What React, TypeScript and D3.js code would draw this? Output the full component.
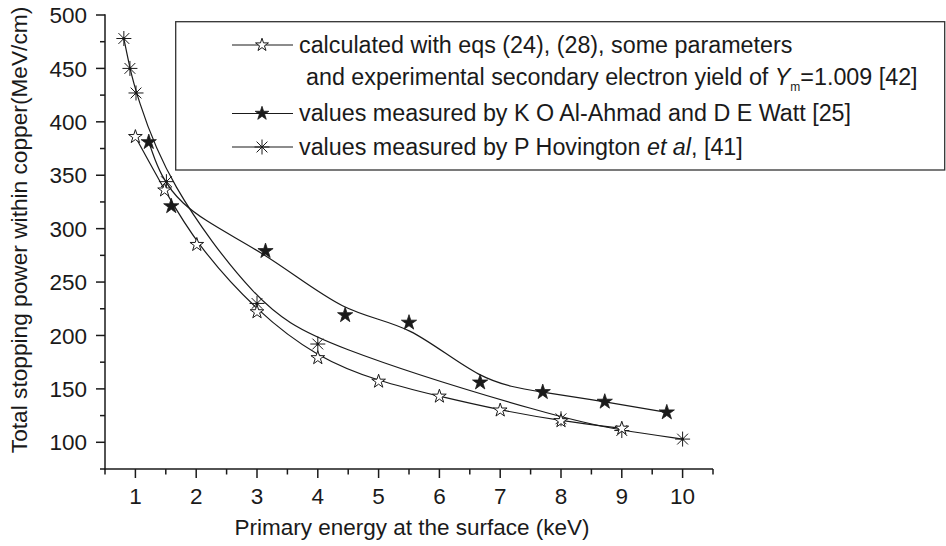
import React from "react";
import * as d3 from "d3";

// ---- data ----
const calcE = [1.0, 1.48, 2.01, 3.0, 4.0, 5.0, 6.0, 7.0, 8.0, 9.0];
const calcS = [386, 336, 285, 222, 179, 157, 143, 130, 120, 113];

const ahmadE = [1.22, 1.59, 3.14, 4.45, 5.5, 6.67, 7.7, 8.72, 9.74];
const ahmadS = [381, 321, 279, 219, 212, 156, 147, 138, 128];

const hovE = [0.81, 0.91, 1.01, 1.51, 3.0, 4.0, 8.0, 9.0, 10.0];
const hovS = [478, 450, 427, 344, 230, 192, 122, 111, 103];

const xTicks = [1, 2, 3, 4, 5, 6, 7, 8, 9, 10];
const xMinor = [0.5, 1.5, 2.5, 3.5, 4.5, 5.5, 6.5, 7.5, 8.5, 9.5, 10.5];
const yTicks = [100, 150, 200, 250, 300, 350, 400, 450, 500];
const yMinor = [75, 125, 175, 225, 275, 325, 375, 425, 475];

const xTitle = "Primary energy at the surface (keV)";
const yTitle = "Total stopping power within copper(MeV/cm)";
const legendCalc1 = "calculated with eqs (24), (28), some parameters";
const legendCalc2a = "and experimental secondary electron yield of ";
const legendCalc2b = "=1.009 [42]";
const legendAhmad = "values measured by K O Al-Ahmad and D E Watt [25]";
const legendHov1 = "values measured by P Hovington ";
const legendHov2 = "et al";
const legendHov3 = ", [41]";

const W = 946;
const H = 546;
const FONT = "'Liberation Sans', Arial, Helvetica, sans-serif";
const INK = "#1a1a1a";

const x = d3.scaleLinear().domain([0.5, 10.5]).range([105, 713]);
const y = d3.scaleLinear().domain([75, 500]).range([469, 15]);

const starPath = (R: number) =>
  d3.symbol().type(d3.symbolStar).size((R * R) / 0.8908130915292852)() as string;

const asteriskPath = (r: number) => {
  const d = r * 0.72;
  return `M${-r},0L${r},0M0,${-r}L0,${r}M${-d},${-d}L${d},${d}M${-d},${d}L${d},${-d}`;
};

const line = d3
  .line<[number, number]>()
  .x((d) => x(d[0]))
  .y((d) => y(d[1]))
  .curve(d3.curveBasis);

const zip = (a: number[], b: number[]): [number, number][] => a.map((v, i) => [v, b[i]]);

export default function App() {
  const calc = zip(calcE, calcS);
  const ahmad = zip(ahmadE, ahmadS);
  const hov = zip(hovE, hovS);
  const openStar = starPath(7.2);
  const fillStar = starPath(8);
  const ast = asteriskPath(7.5);
  const yAxisX = x.range()[0];
  const xAxisY = y.range()[0];

  const legendRows = [45, 80, 113.5, 147];
  const legendBase = [52.7, 85, 120.5, 154.8];
  const lx0 = 232;
  const lx1 = 293;
  const lxm = 262;

  return (
    <svg
      width={W}
      height={H}
      style={{ position: "absolute", left: 0, top: 0, background: "#fff" }}
      fontFamily={FONT}
    >
      <rect width={W} height={H} fill="#fff" />
      {/* curves */}
      <g fill="none" stroke={INK} strokeWidth={1.2}>
        <path d={line(calc) as string} />
        <path d={line(ahmad) as string} />
        <path d={line(hov) as string} />
      </g>
      {/* markers */}
      {hov.map((p, i) => (
        <g key={"h" + i} transform={`translate(${x(p[0])},${y(p[1])})`}>
          <path d={ast} stroke={INK} strokeWidth={1} fill="none" />
          <circle r={1.5} fill={INK} />
        </g>
      ))}
      {calc.map((p, i) => (
        <path
          key={"c" + i}
          d={openStar}
          transform={`translate(${x(p[0])},${y(p[1])})`}
          fill="#fff"
          stroke={INK}
          strokeWidth={1}
        />
      ))}
      {ahmad.map((p, i) => (
        <path
          key={"a" + i}
          d={fillStar}
          transform={`translate(${x(p[0])},${y(p[1])})`}
          fill={INK}
          stroke={INK}
          strokeWidth={0.8}
        />
      ))}

      {/* axes */}
      <g stroke={INK} strokeWidth={1.5} fill="none">
        <line x1={yAxisX} x2={yAxisX} y1={y(500) - 0.75} y2={xAxisY + 0.75} />
        <line x1={yAxisX - 0.75} x2={x(10.5)} y1={xAxisY} y2={xAxisY} />
        {yTicks.map((t) => (
          <line key={"yt" + t} x1={yAxisX - 9} x2={yAxisX} y1={y(t)} y2={y(t)} />
        ))}
        {yMinor.map((t) => (
          <line key={"ym" + t} x1={yAxisX - 5} x2={yAxisX} y1={y(t)} y2={y(t)} />
        ))}
        {xTicks.map((t) => (
          <line key={"xt" + t} x1={x(t)} x2={x(t)} y1={xAxisY} y2={xAxisY + 9} />
        ))}
        {xMinor.map((t) => (
          <line key={"xm" + t} x1={x(t)} x2={x(t)} y1={xAxisY} y2={xAxisY + 5.5} />
        ))}
      </g>
      <g fontSize={22.5} fill={INK}>
        {yTicks.map((t) => (
          <text key={"yl" + t} x={yAxisX - 18} y={y(t)} dy="0.36em" textAnchor="end">
            {t}
          </text>
        ))}
        {xTicks.map((t) => (
          <text key={"xl" + t} x={x(t)} y={503.5} textAnchor="middle">
            {t}
          </text>
        ))}
        <text x={(x.range()[0] + x.range()[1]) / 2 + 3} y={535} textAnchor="middle">
          {xTitle}
        </text>
        <text transform={`translate(27,230) rotate(-90)`} textAnchor="middle" fontSize={22.7}>
          {yTitle}
        </text>
      </g>

      {/* legend */}
      <rect x={175.7} y={21.7} width={769} height={148.3} fill="#fff" stroke="#333" strokeWidth={1.3} />
      <g stroke={INK} strokeWidth={1.2}>
        {[0, 2, 3].map((r) => (
          <line key={"ll" + r} x1={lx0} x2={lx1} y1={legendRows[r]} y2={legendRows[r]} />
        ))}
      </g>
      <path d={starPath(6.8)} transform={`translate(${lxm},${legendRows[0]})`} fill="#fff" stroke={INK} strokeWidth={1} />
      <path d={starPath(7.2)} transform={`translate(${lxm},${legendRows[2]})`} fill={INK} stroke={INK} strokeWidth={0.8} />
      <g transform={`translate(${lxm},${legendRows[3]})`}>
        <path d={asteriskPath(7.5)} stroke={INK} strokeWidth={1} fill="none" />
      </g>
      <g fontSize={23.3} fill={INK}>
        <text x={299} y={legendBase[0]}>{legendCalc1}</text>
        <text x={306} y={legendBase[1]}>
          {legendCalc2a}
          <tspan fontStyle="italic">Y</tspan>
          <tspan fontSize={12} dy={6}>m</tspan>
          <tspan dy={-6}>{legendCalc2b}</tspan>
        </text>
        <text x={299} y={legendBase[2]}>{legendAhmad}</text>
        <text x={299} y={legendBase[3]}>
          {legendHov1}
          <tspan fontStyle="italic">{legendHov2}</tspan>
          {legendHov3}
        </text>
      </g>
    </svg>
  );
}
